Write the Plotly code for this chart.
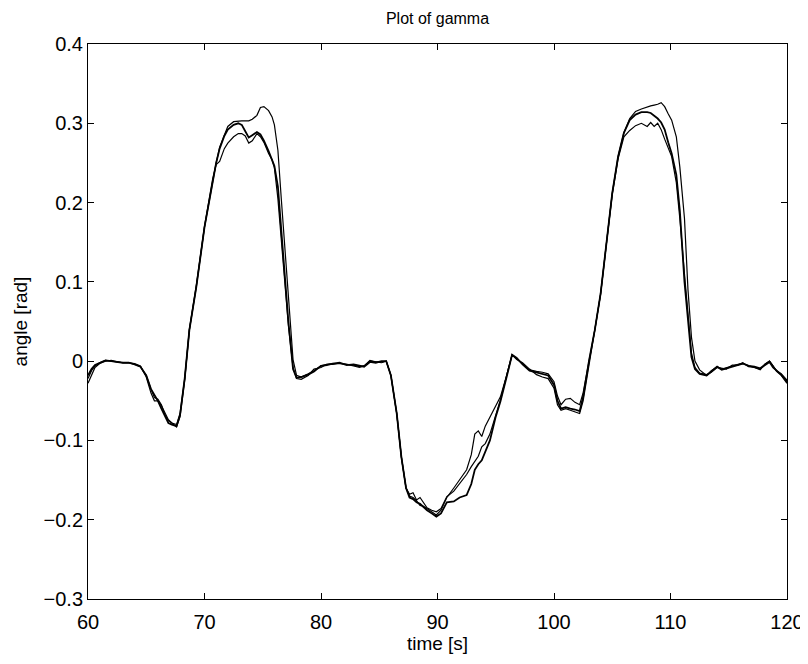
import plotly.graph_objects as go

# time [s]
t = [60.0, 60.3, 60.6, 61.0, 61.5, 62.0, 62.5, 63.0, 63.5, 64.0, 64.5, 65.0, 65.4, 65.7, 66.0, 66.3, 66.6, 66.9, 67.2, 67.6,
     67.9, 68.3, 68.7, 69.3, 70.0, 70.7, 71.0, 71.3, 71.7, 72.0, 72.5, 72.9, 73.2, 73.5, 73.8, 74.1, 74.5, 74.8, 75.1, 75.5,
     75.8, 76.0, 76.3, 76.6, 76.9, 77.2, 77.6, 77.9, 78.3, 78.9, 79.4, 80.0, 80.5, 81.0, 81.6, 82.2, 82.8, 83.3, 83.7, 84.2,
     84.7, 85.2, 85.6, 86.0, 86.5, 86.9, 87.3, 87.6, 87.9, 88.2, 88.5, 88.8, 89.1, 89.5, 89.9, 90.3, 90.8, 91.4, 91.9, 92.5,
     92.9, 93.2, 93.5, 93.8, 94.1, 94.5, 95.0, 95.4, 95.9, 96.4, 96.8, 97.3, 97.9, 98.5, 99.0, 99.5, 100.0, 100.3, 100.6, 101.0,
     101.4, 101.8, 102.2, 102.5, 103.0, 103.5, 104.0, 104.5, 105.0, 105.5, 106.0, 106.5, 107.0, 107.5, 108.0, 108.3, 108.6, 108.9, 109.2, 109.5,
     109.8, 110.1, 110.5, 110.8, 111.2, 111.5, 111.8, 112.1, 112.5, 113.1, 113.5, 114.0, 114.4, 114.8, 115.3, 115.8, 116.2, 116.7, 117.2, 117.7,
     118.1, 118.5, 118.8, 119.1, 119.5, 120.0]

gamma_a = [-0.022, -0.012, -0.006, -0.002, 0.001, 0.000, -0.001, -0.002, -0.002, -0.004, -0.007, -0.018, -0.035, -0.046, -0.048, -0.055, -0.068, -0.075, -0.078, -0.083,
           -0.070, -0.024, 0.039, 0.094, 0.169, 0.228, 0.250, 0.270, 0.285, 0.296, 0.302, 0.303, 0.303, 0.303, 0.303, 0.305, 0.310, 0.320, 0.321, 0.316,
           0.308, 0.298, 0.266, 0.203, 0.140, 0.077, 0.002, -0.018, -0.020, -0.016, -0.012, -0.006, -0.004, -0.003, -0.003, -0.004, -0.005, -0.007, -0.006, 0.000,
           -0.001, -0.001, 0.000, -0.018, -0.066, -0.121, -0.160, -0.170, -0.172, -0.176, -0.182, -0.183, -0.186, -0.190, -0.194, -0.188, -0.172, -0.160, -0.150, -0.137,
           -0.118, -0.092, -0.088, -0.095, -0.082, -0.070, -0.055, -0.045, -0.020, 0.008, 0.003, -0.003, -0.011, -0.013, -0.014, -0.016, -0.026, -0.044, -0.055, -0.048,
           -0.047, -0.052, -0.055, -0.040, 0.000, 0.039, 0.085, 0.150, 0.212, 0.258, 0.288, 0.306, 0.315, 0.318, 0.321, 0.322, 0.323, 0.324, 0.326, 0.321,
           0.312, 0.304, 0.283, 0.245, 0.180, 0.090, 0.030, 0.000, -0.011, -0.018, -0.012, -0.007, -0.010, -0.008, -0.006, -0.004, -0.003, -0.006, -0.008, -0.010,
           -0.004, 0.000, -0.006, -0.012, -0.016, -0.024]

gamma_b = [-0.018, -0.010, -0.005, -0.002, 0.001, 0.000, -0.001, -0.002, -0.002, -0.004, -0.007, -0.018, -0.035, -0.042, -0.050, -0.060, -0.070, -0.078, -0.080, -0.082,
           -0.068, -0.022, 0.039, 0.094, 0.169, 0.228, 0.250, 0.268, 0.284, 0.292, 0.298, 0.300, 0.298, 0.290, 0.282, 0.285, 0.289, 0.286, 0.278, 0.265,
           0.255, 0.246, 0.220, 0.160, 0.100, 0.050, -0.010, -0.021, -0.020, -0.017, -0.013, -0.006, -0.005, -0.003, -0.002, -0.005, -0.004, -0.006, -0.007, -0.001,
           -0.002, 0.000, 0.000, -0.018, -0.066, -0.121, -0.160, -0.172, -0.174, -0.178, -0.180, -0.184, -0.188, -0.192, -0.196, -0.192, -0.178, -0.177, -0.172, -0.169,
           -0.155, -0.137, -0.130, -0.125, -0.115, -0.100, -0.070, -0.051, -0.022, 0.008, 0.004, -0.004, -0.012, -0.014, -0.016, -0.018, -0.030, -0.050, -0.060, -0.058,
           -0.060, -0.061, -0.063, -0.045, 0.000, 0.039, 0.085, 0.150, 0.212, 0.258, 0.288, 0.304, 0.311, 0.314, 0.314, 0.313, 0.310, 0.306, 0.301, 0.292,
           0.276, 0.262, 0.235, 0.190, 0.100, 0.050, 0.005, -0.010, -0.016, -0.018, -0.013, -0.007, -0.011, -0.009, -0.007, -0.004, -0.003, -0.006, -0.007, -0.009,
           -0.005, -0.001, -0.008, -0.012, -0.017, -0.026]

gamma_c = [-0.028, -0.018, -0.008, -0.003, 0.000, 0.001, -0.001, -0.002, -0.002, -0.003, -0.006, -0.020, -0.040, -0.050, -0.050, -0.056, -0.066, -0.074, -0.078, -0.080,
           -0.066, -0.022, 0.040, 0.096, 0.170, 0.230, 0.248, 0.252, 0.268, 0.275, 0.283, 0.287, 0.287, 0.284, 0.275, 0.278, 0.287, 0.283, 0.276, 0.262,
           0.254, 0.244, 0.205, 0.150, 0.095, 0.045, -0.008, -0.022, -0.023, -0.018, -0.010, -0.008, -0.004, -0.004, -0.003, -0.004, -0.006, -0.008, -0.006, 0.001,
           -0.001, -0.002, 0.000, -0.018, -0.066, -0.121, -0.160, -0.168, -0.166, -0.175, -0.172, -0.178, -0.185, -0.188, -0.190, -0.186, -0.171, -0.164, -0.154, -0.143,
           -0.133, -0.126, -0.120, -0.108, -0.104, -0.092, -0.068, -0.049, -0.020, 0.008, 0.002, -0.002, -0.010, -0.017, -0.020, -0.022, -0.034, -0.055, -0.062, -0.060,
           -0.062, -0.064, -0.066, -0.050, -0.005, 0.039, 0.084, 0.148, 0.210, 0.255, 0.283, 0.291, 0.297, 0.300, 0.296, 0.301, 0.296, 0.300, 0.292, 0.280,
           0.270, 0.258, 0.225, 0.180, 0.110, 0.055, 0.010, -0.008, -0.015, -0.017, -0.014, -0.008, -0.009, -0.010, -0.005, -0.005, -0.002, -0.007, -0.008, -0.011,
           -0.004, 0.000, -0.006, -0.013, -0.018, -0.028]

x_ticks = [60, 70, 80, 90, 100, 110, 120]
y_ticks = [0.4, 0.3, 0.2, 0.1, 0.0, -0.1, -0.2, -0.3]
y_tick_text = ["0.4", "0.3", "0.2", "0.1", "0", "\u22120.1", "\u22120.2", "\u22120.3"]

fig = go.Figure()
for vals, w in [(gamma_a, 1.2), (gamma_b, 1.8), (gamma_c, 1.2)]:
    fig.add_trace(go.Scatter(x=t, y=vals, mode="lines", line=dict(color="black", width=w), showlegend=False))

fam = "Liberation Sans, Arial, sans-serif"
tick_font = dict(family=fam, size=20, color="black")
label_font = dict(family=fam, size=19, color="black")
title_font = dict(family=fam, size=16, color="black")
axis_common = dict(showline=True, linecolor="black", linewidth=1, mirror="ticks", ticks="inside",
                   ticklen=6, tickcolor="black", showgrid=False, zeroline=False, tickfont=tick_font,
                   automargin=False)

# page body has an 8px default margin, so the figure is 800x656 placed at (8, 8)
fig.update_layout(
    width=800, height=656,
    margin=dict(l=80, r=21, t=36, b=65),
    paper_bgcolor="white", plot_bgcolor="white",
    font=tick_font,
    title=dict(text="Plot of gamma", x=0.5, xanchor="center", xref="paper", y=1 - 10 / 656, yanchor="middle", font=title_font),
    xaxis=dict(range=[60, 120], tickvals=x_ticks, ticklabelstandoff=5,
               title=dict(text="time [s]", font=label_font, standoff=2), **axis_common),
    yaxis=dict(range=[-0.3, 0.4], tickvals=y_ticks, ticktext=y_tick_text,
               title=dict(text="angle [rad]", font=label_font, standoff=10), **axis_common),
)

fig.write_html("out.html")
